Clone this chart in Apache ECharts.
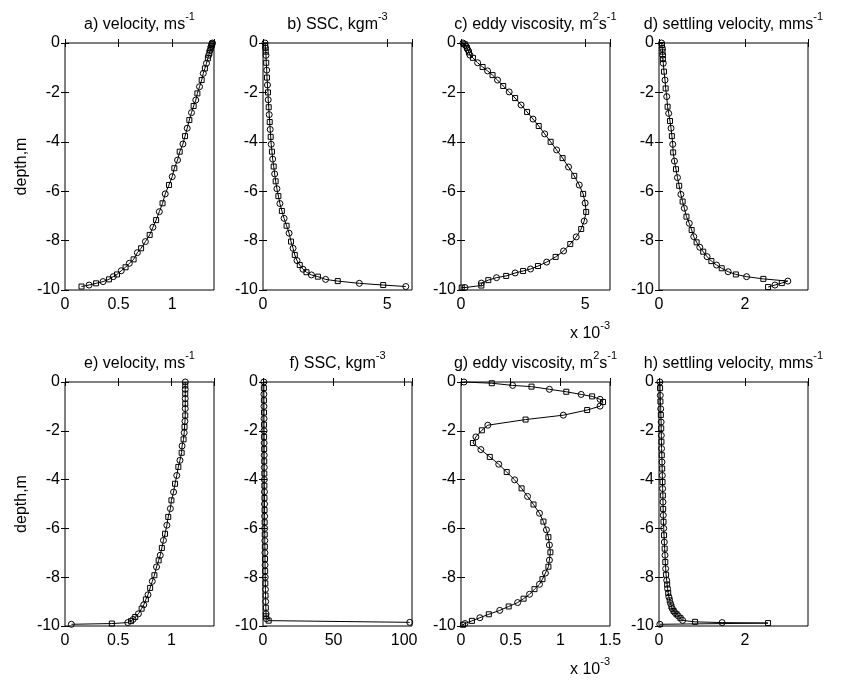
<!DOCTYPE html>
<html><head><meta charset="utf-8">
<script src="https://cdn.jsdelivr.net/npm/echarts@6/dist/echarts.min.js"></script>
<style>html,body{margin:0;padding:0;background:#fff}#c{width:845px;height:696px}</style>
</head><body><div id="c"></div>
<script>
// ---------------- data ----------------
const yTickLabels = [0, -2, -4, -6, -8, -10];

// a) velocity (top row)
const aDepth = [0,-0.02,-0.05,-0.1,-0.15,-0.22,-0.3,-0.4,-0.5,-0.62,-0.82,-1.03,-1.23,-1.5,-1.77,-2.04,-2.31,-2.55,-2.82,-3.12,-3.45,-3.77,-4.09,-4.4,-4.74,-5.07,-5.41,-5.75,-6.11,-6.49,-6.83,-7.17,-7.46,-7.77,-8.04,-8.31,-8.49,-8.76,-8.92,-9.08,-9.22,-9.37,-9.46,-9.57,-9.66,-9.73,-9.8,-9.86];
const aVel = [1.375,1.373,1.37,1.367,1.363,1.358,1.353,1.347,1.34,1.333,1.32,1.305,1.29,1.275,1.255,1.235,1.22,1.2,1.18,1.16,1.14,1.12,1.1,1.07,1.05,1.02,1.0,0.97,0.935,0.91,0.88,0.85,0.82,0.79,0.75,0.71,0.675,0.64,0.6,0.565,0.525,0.485,0.45,0.41,0.355,0.29,0.225,0.154];
const aTicks = [0, 0.5, 1];

// b) SSC (top row)
const bDepth = [0,-0.1,-0.2,-0.35,-0.5,-0.8,-1.1,-1.4,-1.7,-2.0,-2.3,-2.6,-2.9,-3.2,-3.5,-3.8,-4.1,-4.4,-4.7,-5.0,-5.3,-5.6,-5.9,-6.2,-6.5,-6.8,-7.1,-7.4,-7.7,-8.04,-8.31,-8.58,-8.81,-8.99,-9.16,-9.28,-9.39,-9.46,-9.57,-9.64,-9.73,-9.8,-9.86];
const bSSC = [0.08,0.09,0.1,0.11,0.12,0.13,0.15,0.16,0.18,0.2,0.21,0.23,0.25,0.27,0.29,0.31,0.33,0.36,0.39,0.43,0.47,0.51,0.56,0.62,0.68,0.76,0.85,0.95,1.05,1.13,1.21,1.28,1.37,1.48,1.61,1.75,1.95,2.21,2.52,3.01,3.88,4.84,5.75];
const bTicks = [0, 5];

// c) eddy viscosity (top row), x 10^-3
const cDepth = [0,-0.05,-0.12,-0.2,-0.28,-0.38,-0.49,-0.6,-0.8,-0.97,-1.13,-1.3,-1.5,-1.74,-1.98,-2.23,-2.51,-2.79,-3.08,-3.36,-3.68,-4.0,-4.33,-4.66,-5.02,-5.38,-5.75,-6.11,-6.48,-6.84,-7.21,-7.53,-7.85,-8.14,-8.42,-8.66,-8.87,-9.03,-9.15,-9.23,-9.31,-9.43,-9.5,-9.6,-9.72,-9.82,-9.9,-9.9];
const cVisc = [0.08,0.15,0.2,0.24,0.28,0.32,0.36,0.48,0.67,0.87,1.07,1.27,1.47,1.7,1.94,2.18,2.42,2.66,2.9,3.13,3.37,3.61,3.85,4.09,4.33,4.56,4.76,4.92,5.0,5.04,4.96,4.84,4.64,4.4,4.13,3.81,3.45,3.1,2.8,2.5,2.18,1.82,1.43,1.1,0.82,0.82,0.16,0.03];
const cTicks = [0, 5];

// d) settling velocity (top row)
const dDepth = [0,-0.08,-0.22,-0.35,-0.49,-0.65,-0.82,-1.16,-1.5,-1.84,-2.17,-2.58,-2.85,-3.16,-3.45,-3.77,-4.1,-4.43,-4.78,-5.11,-5.45,-5.78,-6.13,-6.42,-6.69,-7.03,-7.3,-7.57,-7.84,-8.07,-8.27,-8.45,-8.65,-8.83,-8.99,-9.12,-9.26,-9.37,-9.46,-9.55,-9.64,-9.72,-9.8,-9.88];
const dWs = [0.06,0.07,0.08,0.083,0.085,0.09,0.1,0.116,0.14,0.155,0.18,0.2,0.225,0.256,0.28,0.3,0.32,0.33,0.36,0.395,0.43,0.47,0.51,0.55,0.59,0.64,0.705,0.76,0.81,0.876,0.95,1.03,1.12,1.22,1.34,1.46,1.61,1.79,2.04,2.43,3.0,2.86,2.7,2.54];
const dTicks = [0, 2];

// e) velocity (bottom row)
const eDepth = [0,-0.14,-0.3,-0.48,-0.68,-0.89,-1.09,-1.37,-1.61,-1.84,-2.08,-2.35,-2.62,-2.9,-3.21,-3.48,-3.83,-4.17,-4.51,-4.85,-5.19,-5.53,-5.87,-6.22,-6.49,-6.8,-7.1,-7.31,-7.58,-7.92,-8.17,-8.44,-8.72,-8.91,-9.13,-9.29,-9.5,-9.63,-9.73,-9.8,-9.86,-9.9,-9.93];
const eVel = [1.13,1.13,1.13,1.13,1.13,1.13,1.13,1.13,1.127,1.123,1.12,1.114,1.10,1.096,1.08,1.065,1.05,1.034,1.02,1.0,0.99,0.97,0.957,0.94,0.925,0.91,0.895,0.88,0.86,0.84,0.82,0.80,0.78,0.76,0.74,0.72,0.69,0.66,0.64,0.62,0.59,0.44,0.06];
const eTicks = [0, 0.5, 1];

// f) SSC (bottom row)
const fDepth = [0,-0.25,-0.5,-0.75,-1,-1.25,-1.5,-1.75,-2,-2.25,-2.5,-2.75,-3,-3.25,-3.5,-3.75,-4,-4.25,-4.5,-4.75,-5,-5.25,-5.5,-5.75,-6,-6.25,-6.5,-6.75,-7,-7.25,-7.5,-7.75,-8,-8.25,-8.5,-8.75,-9,-9.25,-9.5,-9.6,-9.7,-9.78,-9.85];
const fSSC = [0.6,0.62,0.64,0.66,0.68,0.7,0.72,0.74,0.76,0.78,0.8,0.82,0.85,0.87,0.9,0.92,0.95,0.97,1.0,1.03,1.06,1.09,1.12,1.15,1.19,1.23,1.27,1.31,1.36,1.41,1.46,1.52,1.58,1.65,1.72,1.8,1.9,2.0,2.15,2.25,2.4,4.0,104];
const fTicks = [0, 50, 100];

// g) eddy viscosity (bottom row), x 10^-3
const gDepth = [0,-0.05,-0.14,-0.19,-0.30,-0.40,-0.51,-0.59,-0.71,-0.82,-0.99,-1.15,-1.36,-1.54,-1.77,-1.98,-2.25,-2.50,-2.77,-3.07,-3.37,-3.69,-4.01,-4.36,-4.69,-5.02,-5.38,-5.72,-6.06,-6.36,-6.68,-6.98,-7.30,-7.57,-7.83,-8.08,-8.29,-8.49,-8.70,-8.88,-9.04,-9.20,-9.36,-9.52,-9.66,-9.79,-9.9,-9.95];
const gVisc = [0.03,0.31,0.52,0.71,0.89,1.06,1.21,1.32,1.40,1.43,1.40,1.27,1.03,0.65,0.27,0.21,0.15,0.12,0.20,0.29,0.38,0.46,0.54,0.61,0.67,0.73,0.79,0.83,0.86,0.88,0.89,0.90,0.89,0.88,0.85,0.82,0.79,0.74,0.69,0.63,0.57,0.48,0.39,0.28,0.19,0.11,0.04,0.02];
const gTicks = [0, 0.5, 1, 1.5];

// h) settling velocity (bottom row)
const hDepth = [0,-0.25,-0.55,-0.8,-1.1,-1.35,-1.64,-1.9,-2.19,-2.45,-2.73,-3.0,-3.28,-3.55,-3.83,-4.1,-4.37,-4.65,-4.92,-5.2,-5.46,-5.73,-6.0,-6.28,-6.56,-6.83,-7.1,-7.38,-7.65,-7.9,-8.13,-8.3,-8.47,-8.65,-8.81,-8.95,-9.08,-9.2,-9.29,-9.38,-9.45,-9.52,-9.59,-9.68,-9.77,-9.83,-9.86,-9.88,-9.93];
const hWs = [0.02,0.025,0.03,0.033,0.04,0.043,0.05,0.052,0.054,0.057,0.06,0.065,0.07,0.074,0.078,0.082,0.085,0.09,0.093,0.097,0.1,0.105,0.11,0.117,0.124,0.132,0.14,0.147,0.155,0.165,0.18,0.19,0.2,0.215,0.23,0.25,0.27,0.29,0.31,0.34,0.37,0.41,0.45,0.5,0.55,0.84,1.47,2.54,0.02];
const hTicks = [0, 2];

// ---------------- layout / style ----------------
const FONT = "'Liberation Sans', Arial, Helvetica, sans-serif";
const LEFTS = [65, 263, 461, 659];
const WIDTH = 149;
const TOPS = [43, 382];
const HEIGHTS = [247, 244];

const panels = [
  {x: aVel,  y: aDepth, max: 1.39,  step: 0.5, ticks: aTicks, title: '{n|a) velocity, ms}{s|-1}'},
  {x: bSSC,  y: bDepth, max: 6,     step: 5,   ticks: bTicks, title: '{n|b) SSC, kgm}{s|-3}'},
  {x: cVisc, y: cDepth, max: 6,     step: 5,   ticks: cTicks, title: '{n|c) eddy viscosity, m}{s|2}{n|s}{s|-1}'},
  {x: dWs,   y: dDepth, max: 3.47,  step: 2,   ticks: dTicks, title: '{n|d) settling velocity, mms}{s|-1}'},
  {x: eVel,  y: eDepth, max: 1.4,   step: 0.5, ticks: eTicks, title: '{n|e) velocity, ms}{s|-1}'},
  {x: fSSC,  y: fDepth, max: 105.6, step: 50,  ticks: fTicks, title: '{n|f) SSC, kgm}{s|-3}'},
  {x: gVisc, y: gDepth, max: 1.5,   step: 0.5, ticks: gTicks, title: '{n|g) eddy viscosity, m}{s|2}{n|s}{s|-1}'},
  {x: hWs,   y: hDepth, max: 3.47,  step: 2,   ticks: hTicks, title: '{n|h) settling velocity, mms}{s|-1}'}
];

const rich = {
  n: {fontSize: 16, fontFamily: FONT, color: '#000', lineHeight: 28, verticalAlign: 'middle'},
  s: {fontSize: 11, fontFamily: FONT, color: '#000', lineHeight: 8, verticalAlign: 'top'}
};

function inList(list, v) { return list.some(t => Math.abs(t - v) < 1e-9); }

const grids = [], xAxes = [], yAxes = [], series = [], graphics = [];
const tickStyle = {show: true, inside: true, length: 4, lineStyle: {color: '#000', width: 1}};

panels.forEach((p, i) => {
  const col = i % 4, row = Math.floor(i / 4);
  const left = LEFTS[col], top = TOPS[row], h = HEIGHTS[row];
  grids.push({left: left, top: top, width: WIDTH, height: h, show: true,
    borderColor: '#000', borderWidth: 1, backgroundColor: 'transparent', outerBoundsMode: 'none', containLabel: false});
  const xBase = {type: 'value', gridIndex: i, min: 0, max: p.max, interval: p.step,
    axisLine: {show: false}, splitLine: {show: false}, axisTick: tickStyle};
  xAxes.push(Object.assign({}, xBase, {position: 'bottom',
    axisLabel: {show: true, color: '#000', fontSize: 16, fontFamily: FONT, margin: 7,
      formatter: v => inList(p.ticks, v) ? String(v) : ''}}));
  xAxes.push(Object.assign({}, xBase, {position: 'top', axisLabel: {show: false}}));
  const yBase = {type: 'value', gridIndex: i, min: -10, max: 0, interval: 2,
    axisLine: {show: false}, splitLine: {show: false}, axisTick: tickStyle};
  yAxes.push(Object.assign({}, yBase, {position: 'left',
    axisLabel: {show: true, color: '#000', fontSize: 16, fontFamily: FONT, margin: 5,
      formatter: v => inList(yTickLabels, v) ? String(v) : ''}}));
  yAxes.push(Object.assign({}, yBase, {position: 'right', axisLabel: {show: false}}));

  series.push({
    type: 'line', xAxisIndex: 2 * i, yAxisIndex: 2 * i,
    data: p.x.map((v, j) => ({value: [v, p.y[j]], symbol: j % 2 ? 'rect' : 'circle', symbolSize: j % 2 ? 5 : 6})),
    showAllSymbol: true, clip: false, silent: true,
    lineStyle: {color: '#000', width: 1},
    itemStyle: {color: 'rgba(255,255,255,0)', borderColor: '#000', borderWidth: 1},
    emphasis: {disabled: true}
  });

  graphics.push({type: 'text', x: left + WIDTH / 2, y: top - 18,
    style: {text: p.title, rich: rich, align: 'center', verticalAlign: 'middle',
      textAlign: 'center', textVerticalAlign: 'middle'}});
});

// depth labels
[0, 1].forEach(row => {
  graphics.push({type: 'text', x: 22, y: TOPS[row] + HEIGHTS[row] / 2, rotation: Math.PI / 2,
    style: {text: 'depth,m', fill: '#000', font: '16px ' + FONT, align: 'center', verticalAlign: 'middle',
      textAlign: 'center', textVerticalAlign: 'middle'}});
  // x 10^-3 multiplier under eddy viscosity panels
  graphics.push({type: 'text', x: 570, y: TOPS[row] + HEIGHTS[row] + 44,
    style: {text: '{n|x 10}{s|-3}', rich: rich, align: 'left', verticalAlign: 'middle',
      textAlign: 'left', textVerticalAlign: 'middle'}});
});

const chart = echarts.init(document.getElementById('c'), null, {renderer: 'canvas'});
chart.setOption({
  animation: false,
  backgroundColor: '#fff',
  grid: grids,
  xAxis: xAxes,
  yAxis: yAxes,
  series: series,
  graphic: graphics
});
</script>
</body></html>
